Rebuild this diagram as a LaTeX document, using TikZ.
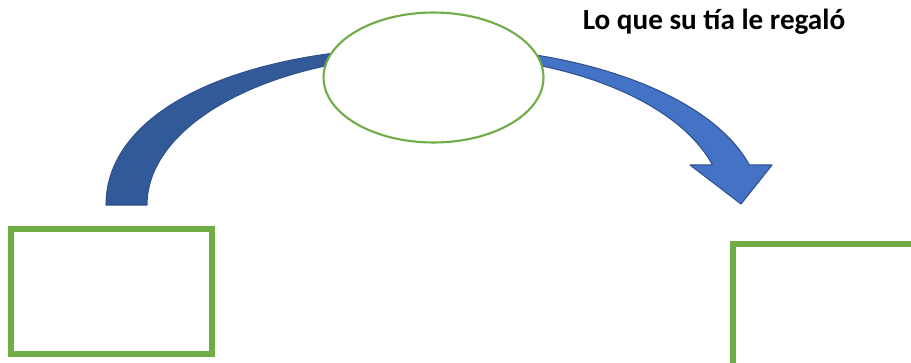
\documentclass[tikz,border=0pt]{standalone}
\usepackage{fontspec}
\setmainfont{Carlito}
\usetikzlibrary{shapes.geometric}
\definecolor{hojaverde}{HTML}{70AD47}
\definecolor{flechaclara}{HTML}{4472C4}
\definecolor{flechaoscura}{HTML}{335A98}
\definecolor{flechaborde}{HTML}{2F528F}

\begin{document}
\begin{tikzpicture}[
				x=0.02cm, y=-0.02cm,
				caja/.style={draw=hojaverde, line width=3.4pt, fill=white, minimum width=4.02cm, minimum height=2.5cm, inner sep=0pt},
				burbuja/.style={ellipse, draw=hojaverde, line width=1.2pt, fill=white, minimum width=4.4cm, minimum height=2.6cm, inner sep=0pt},
				cinta/.style={draw=flechaborde, line width=0.6pt, line join=round}
				]
				\useasboundingbox (0,0) rectangle (911,362);
				\clip (0,0) rectangle (911,362);
				% curved arrow: dark back half, light front half with the head
				\filldraw[cinta, fill=flechaoscura] (106,205) .. controls (106,110) and (240,47) .. (433,47)
					-- (433,55) arc[start angle=270, end angle=180, x radius=286, y radius=150] -- cycle;
				\filldraw[cinta, fill=flechaclara] (433,47) arc[start angle=270, end angle=345.3, x radius=327, y radius=158]
					-- (772,165) -- (741,204) -- (690,165) -- (712.4,164.9)
					arc[start angle=344.5, end angle=270, x radius=290, y radius=150] -- cycle;
				\node[burbuja] (regalo) at (433.5,77.5) {};
				\node[caja] (tia) at (111.5,291.5) {};
				\node[caja, minimum width=4.54cm, minimum height=3.52cm] (sobrino) at (846.5,332) {};
				\node[font=\bfseries\fontsize{16.6}{20}\selectfont, anchor=base] (titulo) at (714,29) {Lo que su tía le regaló};
			\end{tikzpicture}
\end{document}
